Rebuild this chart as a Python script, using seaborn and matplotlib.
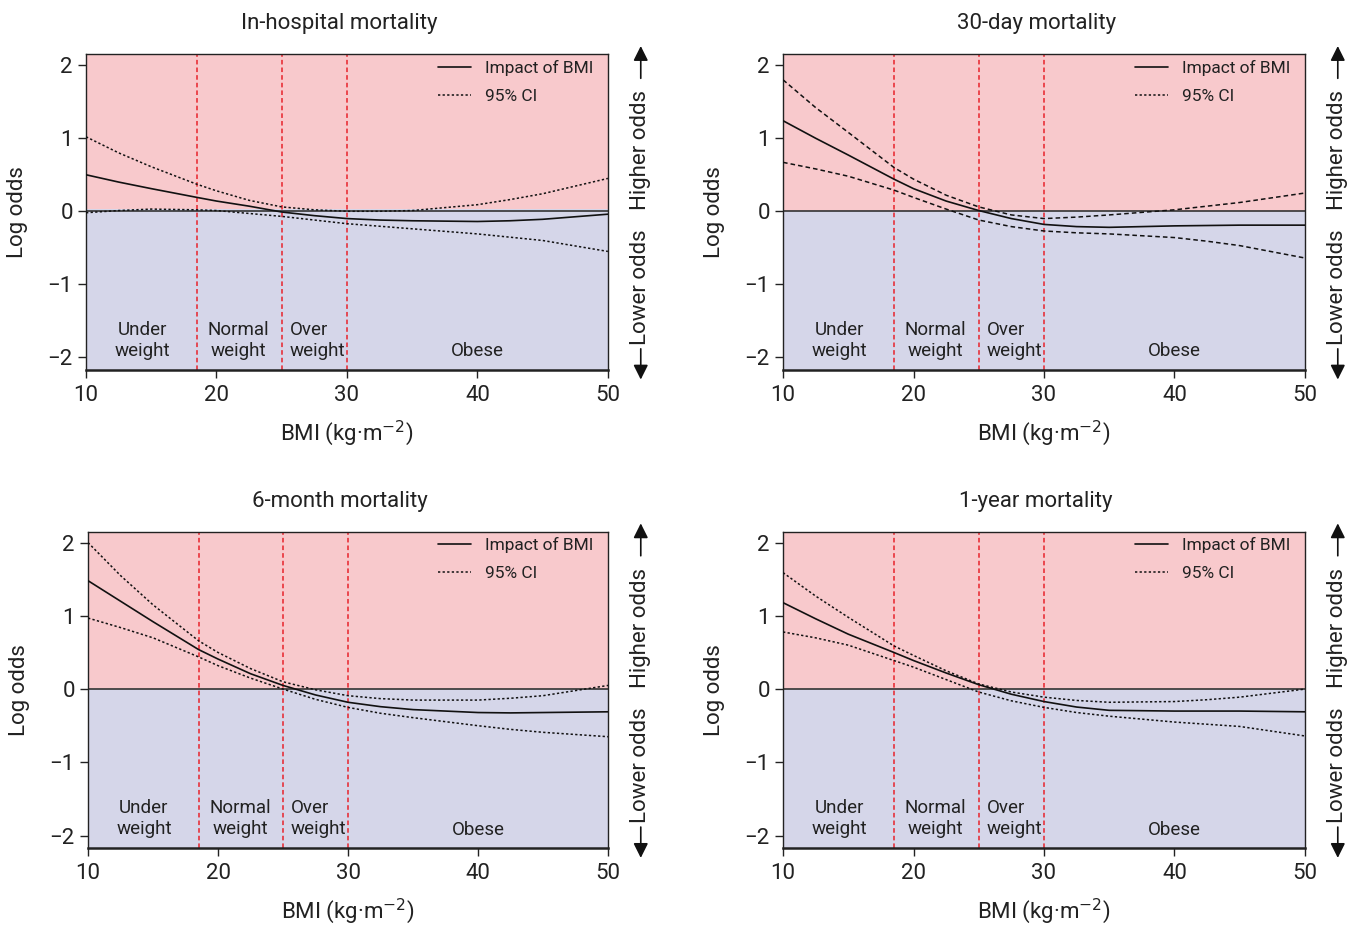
import numpy as np
import pandas as pd
import matplotlib
matplotlib.use('Agg')
import matplotlib.pyplot as plt
import seaborn as sns

bmi = [10, 12.5, 15, 18.5, 20, 22.5, 25, 27.5, 30, 32.5, 35, 40, 42.5, 45, 50]

titles = ['In-hospital mortality', '30-day mortality', '6-month mortality', '1-year mortality']

inhosp_est = [0.50, 0.40, 0.31, 0.19, 0.14, 0.07, -0.01, -0.06, -0.10, -0.12, -0.13, -0.14, -0.13, -0.11, -0.04]
inhosp_up = [1.02, 0.80, 0.61, 0.37, 0.28, 0.15, 0.06, 0.02, 0.00, 0.00, 0.01, 0.09, 0.16, 0.24, 0.45]
inhosp_lo = [-0.02, 0.01, 0.03, 0.02, 0.01, -0.03, -0.07, -0.12, -0.17, -0.205, -0.24, -0.31, -0.355, -0.40, -0.55]

d30_est = [1.24, 1.00, 0.77, 0.44, 0.31, 0.14, 0.01, -0.10, -0.18, -0.21, -0.22, -0.20, -0.195, -0.19, -0.19]
d30_up = [1.80, 1.42, 1.08, 0.60, 0.44, 0.22, 0.06, -0.05, -0.10, -0.08, -0.05, 0.02, 0.07, 0.12, 0.25]
d30_lo = [0.67, 0.58, 0.48, 0.29, 0.19, 0.03, -0.12, -0.21, -0.27, -0.295, -0.31, -0.36, -0.41, -0.47, -0.64]

m6_est = [1.48, 1.20, 0.92, 0.54, 0.41, 0.21, 0.05, -0.08, -0.18, -0.24, -0.28, -0.32, -0.325, -0.32, -0.31]
m6_up = [2.00, 1.55, 1.15, 0.66, 0.50, 0.28, 0.10, -0.01, -0.09, -0.13, -0.15, -0.15, -0.125, -0.09, 0.05]
m6_lo = [0.97, 0.84, 0.70, 0.44, 0.32, 0.15, 0.00, -0.14, -0.25, -0.33, -0.39, -0.50, -0.55, -0.59, -0.65]

y1_est = [1.18, 0.96, 0.75, 0.50, 0.39, 0.22, 0.06, -0.07, -0.17, -0.245, -0.29, -0.30, -0.30, -0.30, -0.31]
y1_up = [1.59, 1.27, 0.98, 0.59, 0.46, 0.25, 0.07, -0.04, -0.11, -0.155, -0.18, -0.17, -0.145, -0.11, 0.00]
y1_lo = [0.78, 0.70, 0.60, 0.39, 0.30, 0.13, -0.04, -0.16, -0.25, -0.32, -0.37, -0.45, -0.48, -0.51, -0.64]

cutoffs = [18.5, 25, 30]
x_ticks = [10, 20, 30, 40, 50]
y_ticks = [-2, -1, 0, 1, 2]

sns.set_style('ticks')
plt.rcParams['font.family'] = ['Roboto', 'DejaVu Sans']
plt.rcParams['text.color'] = '#222222'
plt.rcParams['axes.labelcolor'] = '#222222'
plt.rcParams['xtick.color'] = '#222222'
plt.rcParams['ytick.color'] = '#222222'

PINK = '#f8c9cc'
BLUE = '#d5d6e9'

fig = plt.figure(figsize=(13.59, 9.36), dpi=100)
positions = [
    [0.0633, 0.605, 0.384, 0.337],
    [0.5762, 0.605, 0.384, 0.337],
    [0.0648, 0.094, 0.3826, 0.338],
    [0.5762, 0.094, 0.384, 0.338],
]
panels = [
    (inhosp_est, inhosp_up, inhosp_lo, (0, (1.5, 1.5))),
    (d30_est, d30_up, d30_lo, (0, (3, 2))),
    (m6_est, m6_up, m6_lo, (0, (1.5, 1.5))),
    (y1_est, y1_up, y1_lo, (0, (1.5, 1.5))),
]

for i, (est, up, lo, ci_style) in enumerate(panels):
    ax = fig.add_axes(positions[i])
    ax.set_xlim(10, 50)
    ax.set_ylim(-2.17, 2.15)
    split = 0.03 if i == 0 else 0.0
    ax.axhspan(split, 2.15, color=PINK, lw=0, zorder=0)
    ax.axhspan(-2.17, split, color=BLUE, lw=0, zorder=0)
    ax.axhline(0, color='#333333', lw=1.2, zorder=1)
    for c in cutoffs:
        ax.axvline(c, color='#e8222b', lw=1.1, ls=(0, (3, 2)), zorder=1)

    sns.lineplot(x=bmi, y=est, ax=ax, color='#111111', lw=1.2, label='Impact of BMI', zorder=3)
    sns.lineplot(x=bmi, y=up, ax=ax, color='#111111', lw=1.1, ls=ci_style, label='95% CI', zorder=3)
    sns.lineplot(x=bmi, y=lo, ax=ax, color='#111111', lw=1.1, ls=ci_style, zorder=3)

    leg = ax.legend(loc='upper right', frameon=False, fontsize=12.5, handlelength=1.9,
                    borderaxespad=0.0, labelspacing=0.75, bbox_to_anchor=(0.985, 1.005))
    for h in leg.get_lines():
        h.set_linestyle('-' if h.get_label() == 'Impact of BMI' else (0, (1.5, 1.5)))

    # weight category labels
    ax.text(14.3, -1.77, 'Under\nweight', ha='center', va='center', fontsize=13.5, linespacing=1.2)
    ax.text(21.7, -1.77, 'Normal\nweight', ha='center', va='center', fontsize=13.5, linespacing=1.2)
    ax.text(25.6, -1.77, 'Over\nweight', ha='left', va='center', fontsize=13.5, linespacing=1.2)
    ax.text(40, -1.92, 'Obese', ha='center', va='center', fontsize=13.5)

    ax.set_xticks(x_ticks)
    ax.set_yticks(y_ticks)
    ax.set_yticklabels(['\u22122', '\u22121', '0', '1', '2'])
    ax.tick_params(axis='both', labelsize=16, length=6, width=1, direction='out')
    ax.tick_params(axis='x', pad=5)
    for s in ax.spines.values():
        s.set_color('#222222')
        s.set_linewidth(1.0)
    ax.spines['bottom'].set_linewidth(1.8)

    ax.set_xlabel('BMI (kg\u00b7m$^{-2}$)', fontsize=16, labelpad=9)
    ax.set_ylabel('Log odds', fontsize=16, labelpad=14)
    ax.set_title(titles[i], fontsize=16, pad=18, x=0.485)

    # right side odds direction arrows
    ax.text(1.063, 0.696, 'Higher odds', transform=ax.transAxes, rotation=90,
            ha='center', va='center', fontsize=16)
    ax.text(1.063, 0.263, 'Lower odds', transform=ax.transAxes, rotation=90,
            ha='center', va='center', fontsize=16)
    ax.annotate('', xy=(1.063, 1.035), xytext=(1.063, 0.915), xycoords='axes fraction',
                arrowprops=dict(arrowstyle='-|>', color='#111111', lw=1.2, mutation_scale=22))
    ax.annotate('', xy=(1.063, -0.04), xytext=(1.063, 0.075), xycoords='axes fraction',
                arrowprops=dict(arrowstyle='-|>', color='#111111', lw=1.2, mutation_scale=22))

fig.savefig('out.png', dpi=100)
